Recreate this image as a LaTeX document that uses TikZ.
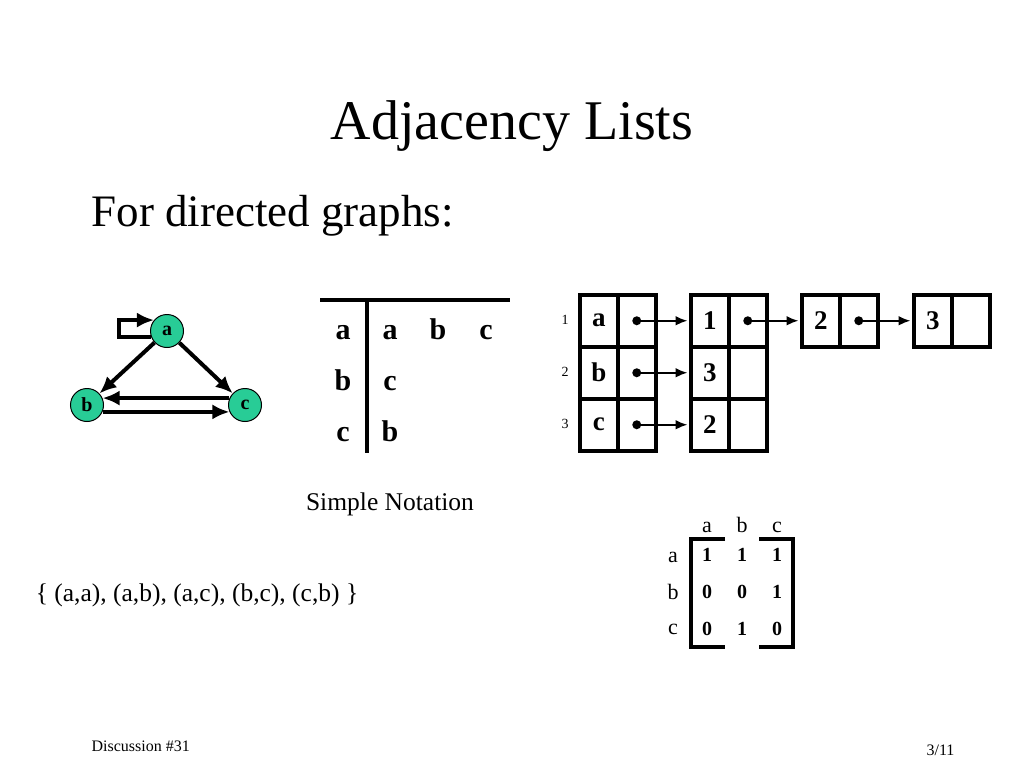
\documentclass[tikz,border=0pt]{standalone}
\usepackage{fontspec}
\setmainfont{Liberation Serif}
\usetikzlibrary{arrows.meta}
\definecolor{nodegreen}{RGB}{40,204,150}
\newcommand{\fs}[1]{\fontsize{#1}{#1}\selectfont}
\tikzset{
  gnode/.style={circle, draw, line width=1pt, fill=nodegreen, minimum size=33pt, inner sep=0pt, font=\fs{20}\bfseries},
  garrow/.style={line width=4pt, -{Latex[length=17pt,width=15pt]}},
  cell/.style={draw, line width=3.5pt, minimum width=38pt, minimum height=52pt, inner sep=0pt, anchor=north west, font=\fs{27}\bfseries},
  larrow/.style={line width=2.4pt, -{Latex[length=12pt,width=10pt]}},
  dotc/.style={circle, fill=black, inner sep=0pt, minimum size=9pt},
  tbl/.style={font=\fs{30}\bfseries, anchor=base},
  rowlbl/.style={font=\fs{14}},
  mhead/.style={font=\fs{22}, anchor=base},
  mval/.style={font=\fs{20}\bfseries, anchor=base},
  thick3/.style={line width=3.5pt}
}
\begin{document}
\begin{tikzpicture}[x=1pt,y=-1pt]
\useasboundingbox (0,0) rectangle (1024,768);
% title
\node[font=\fs{56}, anchor=base] (title) at (512,139) {Adjacency Lists};
\node[font=\fs{45}, anchor=base west] (sub) at (88,226) {For directed graphs:};
% graph
\node[gnode] (a) at (167,331) {a};
\node[gnode] (b) at (87,405) {b};
\node[gnode] (c) at (245,405) {c};
\draw[garrow] (a.200) -- ++(-32,0) |- (a.140);
\draw[garrow] (a) -- (b);
\draw[garrow] (a) -- (c);
\draw[garrow] (c.156) -- (b.24);
\draw[garrow] (b.-24) -- (c.204);
% simple notation table
\coordinate (h1) at (320,300);
\coordinate (h2) at (510,300);
\coordinate (v1) at (367,300);
\coordinate (v2) at (367,453);
\draw[thick3] (h1) -- (h2);
\draw[thick3] (v1) -- (v2);
\node[tbl] (t1) at (343,339) {a};
\node[tbl] (t2) at (343,390) {b};
\node[tbl] (t3) at (343,441) {c};
\node[tbl] (t11) at (390,339) {a};
\node[tbl] (t12) at (438,339) {b};
\node[tbl] (t13) at (486,339) {c};
\node[tbl] (t21) at (390,390) {c};
\node[tbl] (t31) at (390,441) {b};
\node[font=\fs{25.5}] (sn) at (390,504) {Simple Notation};
\node[font=\fs{25.5}] (set) at (197,595) {\{ (a,a), (a,b), (a,c), (b,c), (c,b) \}};
% linked lists
\node[rowlbl] (r1) at (565,320) {1};
\node[rowlbl] (r2) at (565,372) {2};
\node[rowlbl] (r3) at (565,424) {3};
\node[cell] (A1) at (578,293) {a};
\node[cell] (A2) at (616,293) {};
\node[cell] (B1) at (578,345) {b};
\node[cell] (B2) at (616,345) {};
\node[cell] (C1) at (578,397) {c};
\node[cell] (C2) at (616,397) {};
\node[cell] (D1) at (689,293) {1};
\node[cell] (D2) at (727,293) {};
\node[cell] (E1) at (689,345) {3};
\node[cell] (E2) at (727,345) {};
\node[cell] (F1) at (689,397) {2};
\node[cell] (F2) at (727,397) {};
\node[cell] (G1) at (800,293) {2};
\node[cell] (G2) at (838,293) {};
\node[cell] (H1) at (912,293) {3};
\node[cell] (H2) at (950,293) {};
\node[dotc] (dA) at (A2.center) {};
\node[dotc] (dB) at (B2.center) {};
\node[dotc] (dC) at (C2.center) {};
\node[dotc] (dD) at (D2.center) {};
\node[dotc] (dG) at (G2.center) {};
\draw[larrow] (dA.center) -- ([xshift=-1.5pt]D1.west);
\draw[larrow] (dB.center) -- ([xshift=-1.5pt]E1.west);
\draw[larrow] (dC.center) -- ([xshift=-1.5pt]F1.west);
\draw[larrow] (dD.center) -- ([xshift=-1.5pt]G1.west);
\draw[larrow] (dG.center) -- ([xshift=-1.5pt]H1.west);
% matrix
\node[mhead] (ca) at (707,532) {a};
\node[mhead] (cb) at (742,532) {b};
\node[mhead] (cc) at (777,532) {c};
\node[mhead] (ra) at (673,562) {a};
\node[mhead] (rb) at (673,599) {b};
\node[mhead] (rc) at (673,634) {c};
\node[mval] (m11) at (707,561) {1};
\node[mval] (m12) at (742,561) {1};
\node[mval] (m13) at (777,561) {1};
\node[mval] (m21) at (707,598) {0};
\node[mval] (m22) at (742,598) {0};
\node[mval] (m23) at (777,598) {1};
\node[mval] (m31) at (707,635) {0};
\node[mval] (m32) at (742,635) {1};
\node[mval] (m33) at (777,635) {0};
\draw[thick3] (725,539) -- (691,539) -- (691,647) -- (725,647);
\draw[thick3] (759,539) -- (793,539) -- (793,647) -- (759,647);
% footer
\node[font=\fs{16}, anchor=base west] (foot) at (88,751) {Discussion \#31};
\node[font=\fs{16}, anchor=base east] (page) at (958,755) {3/11};
\end{tikzpicture}
\end{document}
